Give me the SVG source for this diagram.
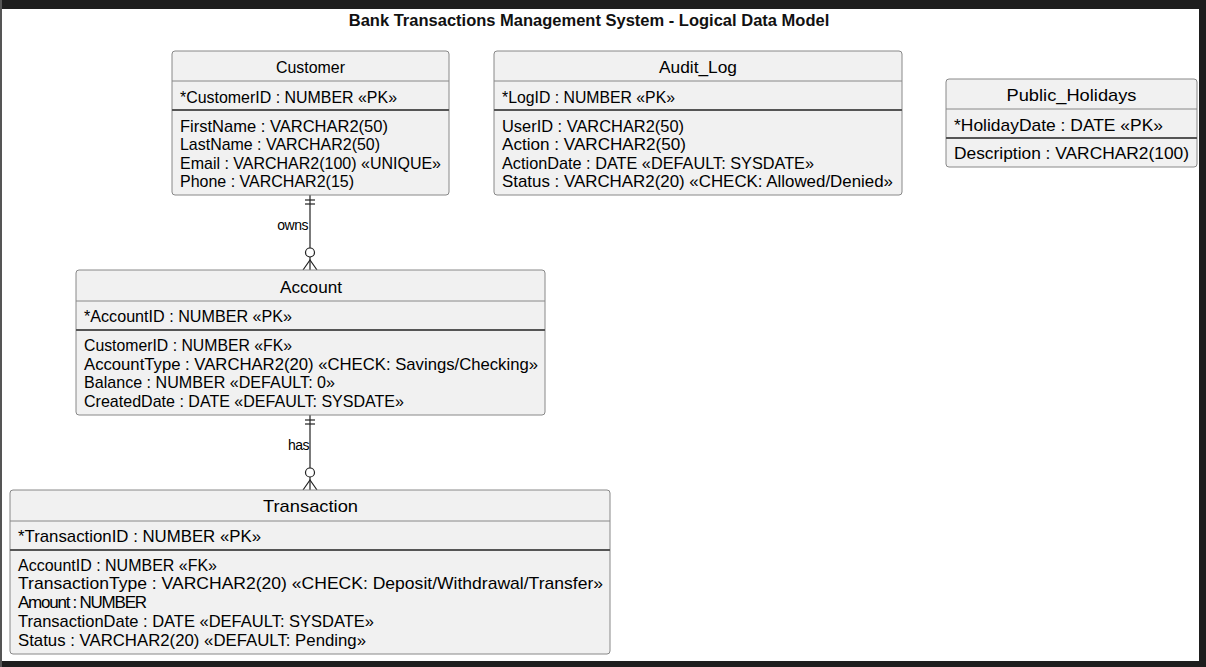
<svg xmlns="http://www.w3.org/2000/svg" width="1206" height="667" viewBox="0 0 1206 667">
<style>
text{font-family:"Liberation Sans",Arial,sans-serif;fill:#000}
.ttl{font-size:16.5px;font-weight:bold;text-anchor:middle;fill:#111}
.nm{font-size:17px;text-anchor:middle}
.at{font-size:17px}
.lbl{font-size:14px;text-anchor:end;letter-spacing:-0.5px}
.box{fill:#f1f1f1;stroke:#888;stroke-width:1}
.s1{stroke:#888;stroke-width:1}
.s2{stroke:#555;stroke-width:2}
.cn{stroke:#222;stroke-width:1.2;fill:none}
.cc{stroke:#222;stroke-width:1.2;fill:#fff}
</style>
<rect x="0" y="0" width="1206" height="667" fill="#fff"/>
<rect x="0" y="0" width="1206" height="9" fill="#1e1e1e"/>
<rect x="1199" y="0" width="7" height="667" fill="#1e1e1e"/>
<rect x="0" y="661" width="1206" height="6" fill="#1e1e1e"/>
<rect x="0" y="0" width="2" height="667" fill="#555"/>
<text class="ttl" x="589" y="25.5">Bank Transactions Management System - Logical Data Model</text>

<g id="connectors">
  <g id="owns">
    <line class="cn" x1="310" y1="195" x2="310" y2="270"/>
    <line class="cn" x1="305" y1="200" x2="315" y2="200"/>
    <line class="cn" x1="305" y1="204" x2="315" y2="204"/>
    <circle class="cc" cx="310" cy="252.5" r="4.5"/>
    <path class="cn" d="M303,270 L310,260 L317,270"/>
    <text class="lbl" x="308" y="230">owns</text>
  </g>
  <g id="has">
    <line class="cn" x1="310" y1="415" x2="310" y2="490"/>
    <line class="cn" x1="305" y1="420" x2="315" y2="420"/>
    <line class="cn" x1="305" y1="424" x2="315" y2="424"/>
    <circle class="cc" cx="310" cy="472.5" r="4.5"/>
    <path class="cn" d="M303,490 L310,480 L317,490"/>
    <text class="lbl" x="309" y="450">has</text>
  </g>
</g>

<g id="Customer">
  <rect class="box" x="172" y="51" width="277" height="144" rx="3"/>
  <line class="s1" x1="172" y1="81" x2="449" y2="81"/>
  <line class="s2" x1="172" y1="110" x2="449" y2="110"/>
  <text class="nm" x="310.5" y="72.5" textLength="69" lengthAdjust="spacingAndGlyphs">Customer</text>
  <text class="at" x="180" y="102.5" textLength="217" lengthAdjust="spacingAndGlyphs">*CustomerID : NUMBER «PK»</text>
  <text class="at" x="180" y="131.5" textLength="208" lengthAdjust="spacingAndGlyphs">FirstName : VARCHAR2(50)</text>
  <text class="at" x="180" y="150" textLength="200" lengthAdjust="spacingAndGlyphs">LastName : VARCHAR2(50)</text>
  <text class="at" x="180" y="168.5" textLength="261" lengthAdjust="spacingAndGlyphs">Email : VARCHAR2(100) «UNIQUE»</text>
  <text class="at" x="180" y="187" textLength="174" lengthAdjust="spacingAndGlyphs">Phone : VARCHAR2(15)</text>
</g>

<g id="Audit_Log">
  <rect class="box" x="494" y="51" width="408" height="144" rx="3"/>
  <line class="s1" x1="494" y1="81" x2="902" y2="81"/>
  <line class="s2" x1="494" y1="110" x2="902" y2="110"/>
  <text class="nm" x="698" y="72.5" textLength="78" lengthAdjust="spacingAndGlyphs">Audit_Log</text>
  <text class="at" x="502" y="102.5" textLength="173" lengthAdjust="spacingAndGlyphs">*LogID : NUMBER «PK»</text>
  <text class="at" x="502" y="131.5" textLength="182" lengthAdjust="spacingAndGlyphs">UserID : VARCHAR2(50)</text>
  <text class="at" x="502" y="150" textLength="184" lengthAdjust="spacingAndGlyphs">Action : VARCHAR2(50)</text>
  <text class="at" x="502" y="168.5" textLength="312" lengthAdjust="spacingAndGlyphs">ActionDate : DATE «DEFAULT: SYSDATE»</text>
  <text class="at" x="502" y="187" textLength="391" lengthAdjust="spacingAndGlyphs">Status : VARCHAR2(20) «CHECK: Allowed/Denied»</text>
</g>

<g id="Public_Holidays">
  <rect class="box" x="946" y="79" width="251" height="88" rx="3"/>
  <line class="s1" x1="946" y1="109" x2="1197" y2="109"/>
  <line class="s2" x1="946" y1="138" x2="1197" y2="138"/>
  <text class="nm" x="1071.5" y="100.5" textLength="130" lengthAdjust="spacingAndGlyphs">Public_Holidays</text>
  <text class="at" x="954" y="130.5" textLength="209" lengthAdjust="spacingAndGlyphs">*HolidayDate : DATE «PK»</text>
  <text class="at" x="954" y="159" textLength="235" lengthAdjust="spacingAndGlyphs">Description : VARCHAR2(100)</text>
</g>

<g id="Account">
  <rect class="box" x="76" y="270" width="469" height="145" rx="3"/>
  <line class="s1" x1="76" y1="301" x2="545" y2="301"/>
  <line class="s2" x1="76" y1="330" x2="545" y2="330"/>
  <text class="nm" x="311" y="292.5" textLength="62" lengthAdjust="spacingAndGlyphs">Account</text>
  <text class="at" x="84" y="322" textLength="208" lengthAdjust="spacingAndGlyphs">*AccountID : NUMBER «PK»</text>
  <text class="at" x="84" y="351" textLength="208" lengthAdjust="spacingAndGlyphs">CustomerID : NUMBER «FK»</text>
  <text class="at" x="84" y="369.5" textLength="454" lengthAdjust="spacingAndGlyphs">AccountType : VARCHAR2(20) «CHECK: Savings/Checking»</text>
  <text class="at" x="84" y="388" textLength="251" lengthAdjust="spacingAndGlyphs">Balance : NUMBER «DEFAULT: 0»</text>
  <text class="at" x="84" y="406.5" textLength="320" lengthAdjust="spacingAndGlyphs">CreatedDate : DATE «DEFAULT: SYSDATE»</text>
</g>

<g id="Transaction">
  <rect class="box" x="10" y="490" width="600" height="164" rx="3"/>
  <line class="s1" x1="10" y1="521" x2="610" y2="521"/>
  <line class="s2" x1="10" y1="550" x2="610" y2="550"/>
  <text class="nm" x="310.5" y="512" textLength="95" lengthAdjust="spacingAndGlyphs">Transaction</text>
  <text class="at" x="18" y="541.5" textLength="243" lengthAdjust="spacingAndGlyphs">*TransactionID : NUMBER «PK»</text>
  <text class="at" x="18" y="570.5" textLength="199" lengthAdjust="spacingAndGlyphs">AccountID : NUMBER «FK»</text>
  <text class="at" x="18" y="589" textLength="585" lengthAdjust="spacingAndGlyphs">TransactionType : VARCHAR2(20) «CHECK: Deposit/Withdrawal/Transfer»</text>
  <text class="at" x="18" y="608" textLength="129" lengthAdjust="spacing">Amount : NUMBER</text>
  <text class="at" x="18" y="627" textLength="356" lengthAdjust="spacingAndGlyphs">TransactionDate : DATE «DEFAULT: SYSDATE»</text>
  <text class="at" x="18" y="645.5" textLength="348" lengthAdjust="spacingAndGlyphs">Status : VARCHAR2(20) «DEFAULT: Pending»</text>
</g>
</svg>
